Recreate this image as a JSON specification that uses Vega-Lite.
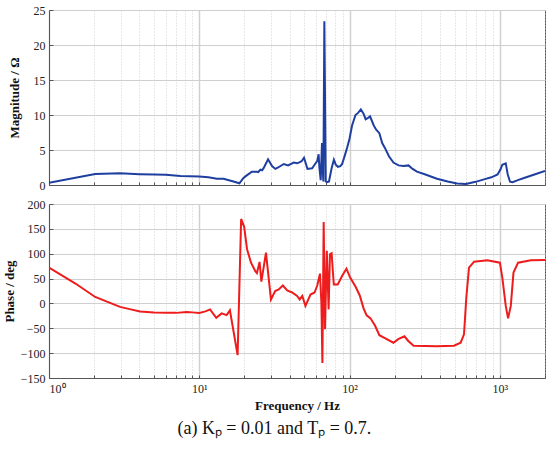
{
  "$schema": "https://vega.github.io/schema/vega-lite/v6.json",
  "background": "white",
  "padding": {"left": 2, "top": 3, "right": 5, "bottom": 4},
  "spacing": 5,
  "config": {
    "font": "Liberation Serif",
    "view": {"stroke": "#555", "strokeWidth": 1},
    "axis": {
      "labelFont": "Liberation Serif",
      "labelFontSize": 12,
      "labelColor": "#222",
      "titleFont": "Liberation Serif",
      "titleFontSize": 13,
      "titleFontWeight": "bold",
      "titleColor": "#111",
      "domainColor": "#555",
      "tickColor": "#555",
      "gridColor": "#cfcfcf",
      "gridWidth": 1
    }
  },
  "datasets": {
    "mag": [
      {"f": 1, "m": 0.33}, {"f": 2.03, "m": 1.57}, {"f": 2.97, "m": 1.67}, {"f": 4, "m": 1.55},
      {"f": 5, "m": 1.5}, {"f": 6, "m": 1.45}, {"f": 7.5, "m": 1.3}, {"f": 10, "m": 1.2},
      {"f": 11.5, "m": 1.1}, {"f": 13.1, "m": 0.9}, {"f": 14.5, "m": 0.9}, {"f": 16.9, "m": 0.5},
      {"f": 18.5, "m": 0.24}, {"f": 19.7, "m": 1.0}, {"f": 20.5, "m": 1.3}, {"f": 22.4, "m": 1.9},
      {"f": 24.2, "m": 1.9}, {"f": 24.7, "m": 1.85}, {"f": 25.5, "m": 2.2}, {"f": 26.2, "m": 2.1},
      {"f": 26.8, "m": 2.4}, {"f": 28.7, "m": 3.67}, {"f": 30.5, "m": 2.7}, {"f": 32.1, "m": 2.3},
      {"f": 33.5, "m": 2.5}, {"f": 36.5, "m": 3.0}, {"f": 39, "m": 2.8}, {"f": 42.5, "m": 3.2},
      {"f": 45, "m": 3.1}, {"f": 48, "m": 3.4}, {"f": 49.8, "m": 3.9}, {"f": 52.5, "m": 2.3},
      {"f": 56.4, "m": 2.4}, {"f": 59, "m": 3.0}, {"f": 60.9, "m": 3.4}, {"f": 62.3, "m": 4.4},
      {"f": 63, "m": 2.5}, {"f": 64.3, "m": 0.7}, {"f": 65.6, "m": 6.0}, {"f": 66.4, "m": 2.0},
      {"f": 67, "m": 0.5}, {"f": 68, "m": 23.4}, {"f": 69.5, "m": 0.5}, {"f": 71, "m": 0.4},
      {"f": 73, "m": 0.5}, {"f": 76, "m": 2.4}, {"f": 78.7, "m": 3.6}, {"f": 81, "m": 2.9},
      {"f": 83.7, "m": 2.6}, {"f": 87, "m": 2.7}, {"f": 89.3, "m": 3.0}, {"f": 93, "m": 4.2},
      {"f": 96.6, "m": 5.4}, {"f": 100, "m": 6.6}, {"f": 104, "m": 8.5}, {"f": 109.6, "m": 10.0},
      {"f": 114, "m": 10.3}, {"f": 119, "m": 10.8}, {"f": 124, "m": 10.2}, {"f": 128, "m": 9.4},
      {"f": 133, "m": 9.6}, {"f": 137, "m": 9.8}, {"f": 145, "m": 8.5}, {"f": 150.5, "m": 7.9},
      {"f": 158, "m": 7.4}, {"f": 165, "m": 6.0}, {"f": 172, "m": 5.3}, {"f": 183, "m": 4.1},
      {"f": 196, "m": 3.2}, {"f": 212, "m": 2.8}, {"f": 229, "m": 2.7}, {"f": 247, "m": 2.8},
      {"f": 263, "m": 2.3}, {"f": 281, "m": 1.9}, {"f": 320, "m": 1.5}, {"f": 382, "m": 0.9},
      {"f": 450, "m": 0.5}, {"f": 520, "m": 0.2}, {"f": 596, "m": 0.14}, {"f": 690, "m": 0.45},
      {"f": 785, "m": 0.8}, {"f": 880, "m": 1.1}, {"f": 967, "m": 1.5}, {"f": 1010, "m": 2.2},
      {"f": 1040, "m": 2.9}, {"f": 1096, "m": 3.1}, {"f": 1130, "m": 1.5}, {"f": 1170, "m": 0.47},
      {"f": 1217, "m": 0.4}, {"f": 1320, "m": 0.7}, {"f": 1450, "m": 1.0}, {"f": 1700, "m": 1.5},
      {"f": 2000, "m": 2.0}
    ],
    "phase": [
      {"f": 1, "p": 72}, {"f": 1.5, "p": 40}, {"f": 2.03, "p": 13}, {"f": 2.5, "p": 2},
      {"f": 2.97, "p": -7}, {"f": 3.5, "p": -12}, {"f": 4.04, "p": -16}, {"f": 5, "p": -18},
      {"f": 6.1, "p": -19}, {"f": 7, "p": -19}, {"f": 8.27, "p": -17}, {"f": 9, "p": -18},
      {"f": 10, "p": -19}, {"f": 11, "p": -16}, {"f": 11.8, "p": -12}, {"f": 12.97, "p": -29},
      {"f": 14.1, "p": -20}, {"f": 15.2, "p": -23.5}, {"f": 16, "p": -14}, {"f": 18.0, "p": -104},
      {"f": 19.0, "p": 170}, {"f": 19.9, "p": 154}, {"f": 20.8, "p": 109}, {"f": 22.1, "p": 82},
      {"f": 23.6, "p": 65}, {"f": 24.2, "p": 61}, {"f": 25.2, "p": 83.5}, {"f": 25.9, "p": 44},
      {"f": 27.8, "p": 102}, {"f": 30, "p": 8}, {"f": 32, "p": 25}, {"f": 33.8, "p": 28},
      {"f": 36, "p": 36}, {"f": 38.5, "p": 26}, {"f": 41.5, "p": 22}, {"f": 44.8, "p": 15},
      {"f": 46.6, "p": 8}, {"f": 48.5, "p": 15}, {"f": 50.9, "p": -5}, {"f": 55, "p": 18},
      {"f": 58.5, "p": 22}, {"f": 61, "p": 36}, {"f": 63.6, "p": 60}, {"f": 65, "p": 1},
      {"f": 66, "p": -120}, {"f": 67.3, "p": 164}, {"f": 68.7, "p": -52}, {"f": 70.6, "p": 106},
      {"f": 72.6, "p": -12}, {"f": 74.1, "p": 99}, {"f": 76, "p": 101}, {"f": 78.6, "p": 38},
      {"f": 83.5, "p": 38}, {"f": 89.2, "p": 55}, {"f": 95.4, "p": 70}, {"f": 101, "p": 52},
      {"f": 110, "p": 33}, {"f": 117, "p": 16}, {"f": 124, "p": -10}, {"f": 130, "p": -24},
      {"f": 138, "p": -30}, {"f": 148, "p": -45}, {"f": 158, "p": -64}, {"f": 172, "p": -70},
      {"f": 196, "p": -79}, {"f": 211, "p": -72}, {"f": 232, "p": -66}, {"f": 247, "p": -76},
      {"f": 267, "p": -85}, {"f": 382, "p": -86}, {"f": 496, "p": -85}, {"f": 549, "p": -79},
      {"f": 578, "p": -62}, {"f": 599, "p": 12}, {"f": 624, "p": 72}, {"f": 675, "p": 84},
      {"f": 826, "p": 87}, {"f": 1002, "p": 82}, {"f": 1040, "p": 52}, {"f": 1096, "p": -5},
      {"f": 1136, "p": -30}, {"f": 1184, "p": -5}, {"f": 1234, "p": 62}, {"f": 1324, "p": 82},
      {"f": 1612, "p": 87}, {"f": 2000, "p": 87.5}
    ]
  },
  "title": {
    "text": "(a) Kₚ = 0.01 and Tₚ = 0.7.",
    "orient": "bottom",
    "anchor": "middle",
    "font": "Liberation Serif",
    "fontSize": 18,
    "fontWeight": "normal",
    "color": "#111",
    "offset": 7
  },
  "vconcat": [
    {
      "width": 496,
      "height": 175,
      "data": {"name": "mag"},
      "mark": {"type": "line", "color": "#1f3fa0", "strokeWidth": 2, "clip": true},
      "encoding": {
        "x": {
          "field": "f", "type": "quantitative",
          "scale": {"type": "log", "domain": [1, 2000], "nice": false},
          "axis": {
            "values": [1,2,3,4,5,6,7,8,9,10,20,30,40,50,60,70,80,90,100,200,300,400,500,600,700,800,900,1000,2000],
            "labels": false, "title": null, "tickSize": -3,
            "gridDash": {"condition": {"test": "indexof([1,10,100,1000], datum.value) < 0", "value": [1, 2]}, "value": []},
            "gridColor": {"condition": {"test": "indexof([1,10,100,1000], datum.value) < 0", "value": "#c4c4c4"}, "value": "#d0d0d0"},
            "gridWidth": {"condition": {"test": "indexof([1,10,100,1000], datum.value) < 0", "value": 0.8}, "value": 1.5}
          }
        },
        "y": {
          "field": "m", "type": "quantitative",
          "scale": {"domain": [0, 25], "nice": false, "zero": false},
          "axis": {"values": [0,5,10,15,20,25], "title": "Magnitude / Ω", "labelFont": "Liberation Serif", "tickSize": -4, "labelPadding": 8, "titlePadding": 12}
        }
      }
    },
    {
      "width": 496,
      "height": 174,
      "data": {"name": "phase"},
      "mark": {"type": "line", "color": "#ee1c1c", "strokeWidth": 2, "clip": true},
      "encoding": {
        "x": {
          "field": "f", "type": "quantitative",
          "scale": {"type": "log", "domain": [1, 2000], "nice": false},
          "axis": {
            "values": [1,2,3,4,5,6,7,8,9,10,20,30,40,50,60,70,80,90,100,200,300,400,500,600,700,800,900,1000,2000],
            "title": "Frequency / Hz", "labelFont": "Liberation Serif", "tickSize": -3, "labelPadding": 8, "titlePadding": 5,
            "labelExpr": "datum.value == 1 ? '10⁰' : datum.value == 10 ? '10¹' : datum.value == 100 ? '10²' : datum.value == 1000 ? '10³' : ''",
            "gridDash": {"condition": {"test": "indexof([1,10,100,1000], datum.value) < 0", "value": [1, 2]}, "value": []},
            "gridColor": {"condition": {"test": "indexof([1,10,100,1000], datum.value) < 0", "value": "#c4c4c4"}, "value": "#d0d0d0"},
            "gridWidth": {"condition": {"test": "indexof([1,10,100,1000], datum.value) < 0", "value": 0.8}, "value": 1.5}
          }
        },
        "y": {
          "field": "p", "type": "quantitative",
          "scale": {"domain": [-150, 200], "nice": false, "zero": false},
          "axis": {"values": [-150,-100,-50,0,50,100,150,200], "title": "Phase / deg", "labelFont": "Liberation Serif", "tickSize": -4, "labelPadding": 8, "titlePadding": 4}
        }
      }
    }
  ]
}
